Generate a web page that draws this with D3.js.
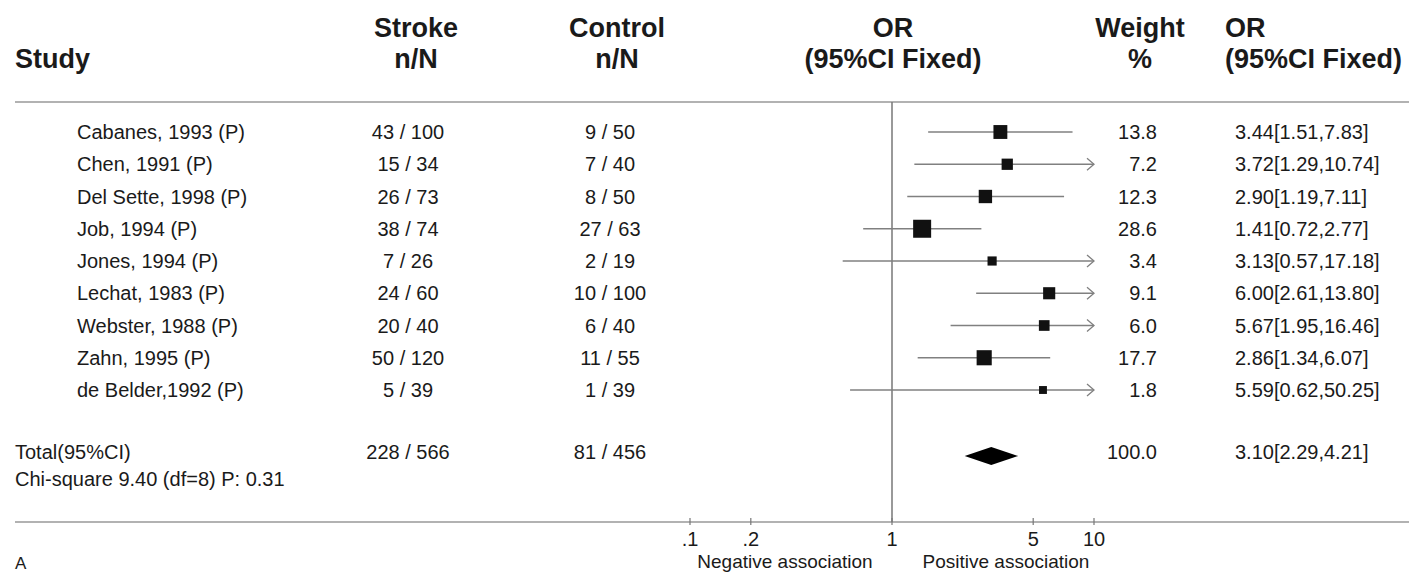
<!DOCTYPE html>
<html>
<head>
<meta charset="utf-8">
<script src="https://cdn.jsdelivr.net/npm/d3@7.9.0/dist/d3.min.js"></script>
<style>
  html, body { margin: 0; padding: 0; background: #fff; }
  svg { display: block; font-family: "Liberation Sans", Arial, sans-serif; }
</style>
</head>
<body>
<svg id="forest"></svg>
<script>
// data
const studies = ["Cabanes, 1993 (P)", "Chen, 1991 (P)", "Del Sette, 1998 (P)", "Job, 1994 (P)",
  "Jones, 1994 (P)", "Lechat, 1983 (P)", "Webster, 1988 (P)", "Zahn, 1995 (P)", "de Belder,1992 (P)"];
const strokeN = [43, 15, 26, 38, 7, 24, 20, 50, 5];
const strokeTotal = [100, 34, 73, 74, 26, 60, 40, 120, 39];
const controlN = [9, 7, 8, 27, 2, 10, 6, 11, 1];
const controlTotal = [50, 40, 50, 63, 19, 100, 40, 55, 39];
const oddsRatio = [3.44, 3.72, 2.90, 1.41, 3.13, 6.00, 5.67, 2.86, 5.59];
const ciLow = [1.51, 1.29, 1.19, 0.72, 0.57, 2.61, 1.95, 1.34, 0.62];
const ciHigh = [7.83, 10.74, 7.11, 2.77, 17.18, 13.80, 16.46, 6.07, 50.25];
const weight = [13.8, 7.2, 12.3, 28.6, 3.4, 9.1, 6.0, 17.7, 1.8];

const total = { strokeN: 228, strokeTotal: 566, controlN: 81, controlTotal: 456,
  or: 3.10, low: 2.29, high: 4.21, weight: 100.0 };
const chiText = "Chi-square 9.40 (df=8) P: 0.31";

const tickValues = [0.1, 0.2, 1, 5, 10];
const tickLabels = [".1", ".2", "1", "5", "10"];

const width = 1409, height = 574;
const svg = d3.select("#forest").attr("width", width).attr("height", height);
svg.append("rect").attr("width", width).attr("height", height).attr("fill", "#fff");

const x = d3.scaleLog().domain([0.1, 10]).range([690, 1094]);
const y = d3.scalePoint().domain(studies).range([132, 390]);
const box = d3.scaleSqrt().domain([0, d3.max(weight)]).range([4.5, 18]);
const totalY = 454, chiY = 477, axisY = 522, topLine = 102;

const textCol = "#1a1a1a";
const fmt2 = d3.format(".2f"), fmt1 = d3.format(".1f");

// header
const head = svg.append("g").attr("font-weight", "bold").attr("font-size", 27).attr("fill", textCol);
const headers = [
  { x: 15, anchor: "start", l1: "", l2: "Study" },
  { x: 416, anchor: "middle", l1: "Stroke", l2: "n/N" },
  { x: 617, anchor: "middle", l1: "Control", l2: "n/N" },
  { x: 893, anchor: "middle", l1: "OR", l2: "(95%CI Fixed)" },
  { x: 1140, anchor: "middle", l1: "Weight", l2: "%" },
  { x: 1225, anchor: "start", l1: "OR", l2: "(95%CI Fixed)" }
];
headers.forEach(h => {
  head.append("text").attr("x", h.x).attr("y", 37).attr("text-anchor", h.anchor).text(h.l1);
  head.append("text").attr("x", h.x).attr("y", 68).attr("text-anchor", h.anchor).text(h.l2);
});

// rules
svg.append("line").attr("x1", 15).attr("x2", width).attr("y1", topLine).attr("y2", topLine)
  .attr("stroke", "#999").attr("stroke-width", 1.5);
svg.append("line").attr("x1", 15).attr("x2", width).attr("y1", axisY).attr("y2", axisY)
  .attr("stroke", "#999").attr("stroke-width", 1.5);
svg.append("line").attr("x1", x(1)).attr("x2", x(1)).attr("y1", topLine).attr("y2", axisY)
  .attr("stroke", "#777").attr("stroke-width", 1.5);

// study rows
const rows = svg.append("g").attr("font-size", 20).attr("fill", textCol);
studies.forEach((s, i) => {
  const yy = y(s) + 7;
  rows.append("text").attr("x", 77).attr("y", yy).text(s);
  rows.append("text").attr("x", 408).attr("y", yy).attr("text-anchor", "middle")
    .text(`${strokeN[i]} / ${strokeTotal[i]}`);
  rows.append("text").attr("x", 610).attr("y", yy).attr("text-anchor", "middle")
    .text(`${controlN[i]} / ${controlTotal[i]}`);
  rows.append("text").attr("x", 1157).attr("y", yy).attr("text-anchor", "end").text(fmt1(weight[i]));
  rows.append("text").attr("x", 1235).attr("y", yy)
    .text(`${fmt2(oddsRatio[i])}[${fmt2(ciLow[i])},${fmt2(ciHigh[i])}]`);
});

// CI lines, boxes, arrows
const plot = svg.append("g");
const [dMin, dMax] = x.domain();
studies.forEach((s, i) => {
  const yy = y(s);
  const lo = Math.max(ciLow[i], dMin), hi = Math.min(ciHigh[i], dMax);
  plot.append("line").attr("x1", x(lo)).attr("x2", x(hi)).attr("y1", yy).attr("y2", yy)
    .attr("stroke", "#808080").attr("stroke-width", 1.5);
  if (ciHigh[i] > dMax) {
    plot.append("path")
      .attr("d", `M${x(dMax) - 7},${yy - 6}L${x(dMax)},${yy}L${x(dMax) - 7},${yy + 6}`)
      .attr("fill", "none").attr("stroke", "#808080").attr("stroke-width", 1.3);
  }
  const b = box(weight[i]);
  plot.append("rect").attr("x", x(oddsRatio[i]) - b / 2).attr("y", yy - b / 2)
    .attr("width", b).attr("height", b).attr("fill", "#111");
});

// total row
rows.append("text").attr("x", 15).attr("y", totalY + 5).text("Total(95%CI)");
rows.append("text").attr("x", 408).attr("y", totalY + 5).attr("text-anchor", "middle")
  .text(`${total.strokeN} / ${total.strokeTotal}`);
rows.append("text").attr("x", 610).attr("y", totalY + 5).attr("text-anchor", "middle")
  .text(`${total.controlN} / ${total.controlTotal}`);
rows.append("text").attr("x", 1157).attr("y", totalY + 5).attr("text-anchor", "end").text(fmt1(total.weight));
rows.append("text").attr("x", 1235).attr("y", totalY + 5)
  .text(`${fmt2(total.or)}[${fmt2(total.low)},${fmt2(total.high)}]`);
rows.append("text").attr("x", 15).attr("y", chiY + 9).text(chiText);

const dy = totalY + 2;
plot.append("path")
  .attr("d", `M${x(total.low)},${dy}L${x(total.or)},${dy - 9}L${x(total.high)},${dy}L${x(total.or)},${dy + 9}Z`)
  .attr("fill", "#000");

// axis
const axis = svg.append("g").attr("font-size", 20).attr("fill", textCol);
tickValues.forEach((v, i) => {
  axis.append("line").attr("x1", x(v)).attr("x2", x(v)).attr("y1", axisY - 4).attr("y2", axisY + 3)
    .attr("stroke", "#777").attr("stroke-width", 1.2);
  axis.append("text").attr("x", x(v)).attr("y", 546).attr("text-anchor", "middle").text(tickLabels[i]);
});
axis.append("text").attr("x", 785).attr("y", 568).attr("font-size", 19).attr("text-anchor", "middle").text("Negative association");
axis.append("text").attr("x", 1006).attr("y", 568).attr("font-size", 19).attr("text-anchor", "middle").text("Positive association");
axis.append("text").attr("x", 15).attr("y", 569).attr("font-size", 17).text("A");
</script>
</body>
</html>
